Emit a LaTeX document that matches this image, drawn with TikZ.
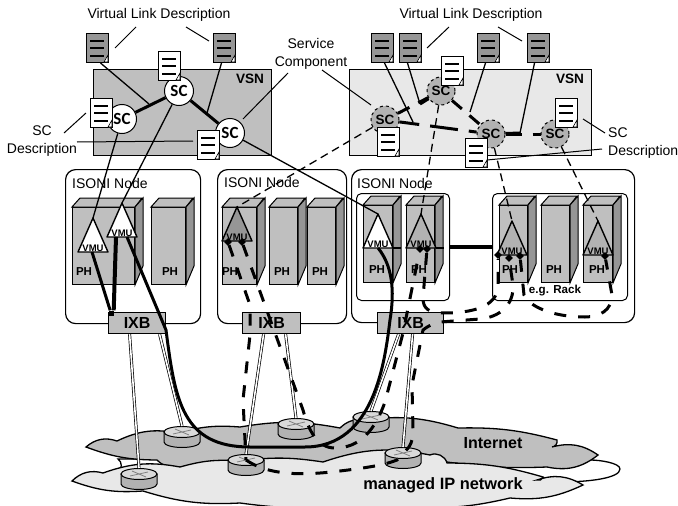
\documentclass[tikz,border=0pt]{standalone}
\usepackage{fontspec}
\setmainfont{Liberation Sans}
\newfontfamily\carlito{Carlito}
\usepackage{xcolor}
\usetikzlibrary{positioning,arrows.meta,shapes.geometric}
\definecolor{gmid}{gray}{0.75}
\definecolor{glight}{gray}{0.91}
\definecolor{gdark}{gray}{0.59}
\definecolor{gsc}{gray}{0.70}
\newcommand{\fs}[2][]{\fontsize{#2}{17.5}\selectfont}
\newcommand{\phbox}[5]{%
  \node[phfront,minimum width=#3pt,anchor=north west] (#1) at (#2,#4) {};
  \draw[phface,fill=gmid] (#1.north west) -- ++(8,-9) -- ++(#3,0) -- (#1.north east) -- cycle;
  \draw[phface,fill=gdark] (#1.north east) -- ++(8,-9) -- ++(0,68) -- (#1.south east) -- cycle;
  \node[phtxt] (#1t) at (#5,#4+65) {PH};}
\newcommand{\docbox}[4]{%
  \node[docn,fill=#4,anchor=north west] (#1) at (#2,#3) {};
  \draw[line width=1.2pt] (#2+4,#3+8) -- ++(14,0) (#2+4,#3+15) -- ++(14,0) (#2+4,#3+23) -- ++(14,0);
  \draw[fill=white,line width=.6pt] (#2+22,#3+22) -- (#2+18,#3+29) -- (#2+22,#3+29) -- cycle;}
\newcommand{\vmutri}[4]{%
  \coordinate (#1a) at (#2,#3-34); \coordinate (#1l) at (#2-15,#3); \coordinate (#1r) at (#2+15,#3);
  \draw[line width=1.4pt,fill=#4,line join=round] (#1a) -- (#1l) -- (#1r) -- cycle;
  \node[vmutxt,anchor=south] (#1) at (#2,#3) {VMU};}
\newcommand{\routernode}[3]{%
  \draw[line width=1pt,fill=gsc] (#2-18,#3) -- ++(0,10) arc[start angle=180,end angle=360,x radius=18pt,y radius=5.5pt] -- ++(0,-10) -- cycle;
  \node[rtop] (#1) at (#2,#3) {};
  \draw[gray,line width=.8pt] (#2-9,#3+2) -- (#2+9,#3-2) (#2-7,#3-3) -- (#2+7,#3+3);}
\begin{document}
\begin{tikzpicture}[x=1pt,y=-1pt,
  >=Latex,
  vsnbox/.style={draw,line width=1pt,minimum height=86pt,inner sep=0pt},
  vsntxt/.style={font=\fs{13.6}\bfseries},
  scl/.style={circle,draw,fill=white,line width=1pt,minimum size=29pt,inner sep=0pt,font=\carlito\fs{17}\bfseries},
  scr/.style={circle,draw,dashed,fill=gsc,line width=1pt,minimum size=28pt,inner sep=0pt,font=\fs{13.5}\bfseries},
  txt/.style={font=\fs{14},align=center},
  docn/.style={draw,line width=1pt,minimum width=22pt,minimum height=29pt,inner sep=0pt},
  cloud/.style={draw,line width=1.3pt},
  isoni/.style={draw,rounded corners=10pt,line width=1.2pt,fill=white,inner sep=0pt},
  rackb/.style={draw,rounded corners=5pt,line width=1pt,fill=white,inner sep=0pt},
  phfront/.style={draw,line width=1pt,fill=gmid,inner sep=0pt,minimum height=77pt},
  phface/.style={draw,line width=1pt},
  phtxt/.style={font=\fs{11.5}\bfseries,inner sep=0pt},
  vmutxt/.style={font=\fs{9.5}\bfseries,inner sep=0.5pt},
  ixb/.style={draw,line width=1.2pt,fill=gmid,minimum height=21pt,inner sep=0pt,font=\fs{16}\bfseries},
  rtop/.style={ellipse,draw,line width=1pt,fill=gmid!60,minimum width=36pt,minimum height=11pt,inner sep=0pt},
  pipe/.style={double,line width=.7pt,double distance=1.6pt},
  thin1/.style={line width=1.3pt},
  tdash/.style={line width=1.3pt,dash pattern=on 8pt off 5pt},
  vlink/.style={line width=3pt},
  vdash/.style={line width=3pt,dash pattern=on 13pt off 10pt},
  bigl/.style={line width=3pt,line join=round},
  bigd/.style={line width=3pt,dash pattern=on 12pt off 12pt},
  dmd/.style={diamond,fill=black,minimum size=8pt,inner sep=0pt},
  lead/.style={line width=1pt}]
  \useasboundingbox (0,0) rectangle (678,506);

  \node (vsn1) [vsnbox,fill=gmid,minimum width=178pt,anchor=north west] at (93,69) {};
  \node (vsn2) [vsnbox,fill=glight,minimum width=242pt,anchor=north west] at (349,69) {};
  \node (vsn1t) [vsntxt] at (250,79) {VSN};
  \node (vsn2t) [vsntxt] at (570,79) {VSN};

  \draw[cloud,fill=white] (118,459) to[bend left=60] (118,472) -- (560,482) .. controls (590,482) and (620,478) .. (620,469) .. controls (620,463) and (600,460) .. (590,460) -- cycle;
  \draw[cloud,fill=gmid] (86,447) to[bend left=30] (117,441) to[bend left=18] (178,433) to[bend left=10] (240,427)
    to[bend left=10] (340,428) to[bend left=25] (363,420) to[bend left=12] (458,428) to[bend left=8] (557,440)
    to[bend left=50] (552,447) to[bend left=25] (598,455) to[bend left=25] (547,467) to[bend left=5] (447,462)
    -- (300,470) -- (177,467) to[bend left=25] (157,460) to[bend left=10] cycle;
  \draw[cloud,fill=glight] (72,481) to[bend left=30] (103,473) to[bend left=15] (180,467) to[bend left=10] (240,461)
    to[bend left=8] (323,462) to[bend left=15] (430,455) to[bend left=50] (447,463) to[bend left=8] (543,477)
    to[bend left=50] (537,480) to[bend left=25] (583,485) to[bend left=15] (510,498) to[bend left=6] (430,508)
    -- (320,508) to[bend left=4] (240,503) to[bend left=10] (143,491) to[bend left=12] cycle;
  \node (inet) [font=\fs{16}\bfseries] at (493,443) {Internet};
  \node (mnet) [font=\fs{16.4}\bfseries] at (443,485) {managed IP network};

  \node (nd1) [isoni,minimum width=135pt,minimum height=154pt,anchor=north west] at (65,169) {};
  \node (nd2) [isoni,minimum width=129pt,minimum height=154pt,anchor=north west] at (217,169) {};
  \node (nd3) [isoni,minimum width=283pt,minimum height=153pt,anchor=north west] at (351,169) {};
  \node (nd1t) [txt,anchor=west,inner sep=0pt] at (72,183) {ISONI Node};
  \node (nd2t) [txt,anchor=west,inner sep=0pt] at (224,182) {ISONI Node};
  \node (nd3t) [txt,anchor=west,inner sep=0pt] at (357,183) {ISONI Node};
  \node (inner) [rackb,minimum width=93pt,minimum height=107pt,anchor=north west] at (356,193) {};
  \node (rack) [rackb,minimum width=135pt,minimum height=107pt,anchor=north west] at (492,193) {};
  \node (rackt) [font=\fs{11.6}\bfseries,inner sep=0pt] at (555,291) {e.g. Rack};

  \phbox{ph1}{72}{62}{207}{84}
  \phbox{ph2}{151}{34}{207}{170}
  \phbox{ph3}{222}{34}{207}{230}
  \phbox{ph4}{269}{28}{207}{282}
  \phbox{ph5}{307}{28}{207}{320}
  \phbox{ph6}{363}{29}{205}{377}
  \phbox{ph7}{406}{28}{205}{419}
  \phbox{ph8}{499}{28}{205}{510}
  \phbox{ph9}{541}{28}{205}{554}
  \phbox{ph10}{583}{29}{205}{597}

  \node (ixb1) [ixb,minimum width=57pt,anchor=north west] at (108,312) {IXB};
  \node (ixb2) [ixb,minimum width=58pt,anchor=north west] at (242,312) {IXB};
  \node (ixb3) [ixb,minimum width=66pt,anchor=north west] at (377,312) {IXB};

  \routernode{rt1}{182}{432}
  \routernode{rt2}{139}{474}
  \routernode{rt3}{246}{460}
  \routernode{rt4}{296}{424}
  \routernode{rt5}{371}{417}
  \routernode{rt6}{403}{453}

  \draw[pipe] ([xshift=-7.5pt]ixb1.south) -- (rt2.north);
  \draw[pipe] ([xshift=22.5pt]ixb1.south) -- (rt1.north);
  \draw[pipe] ([xshift=-8pt]ixb2.south) -- (rt3.north);
  \draw[pipe] ([xshift=14pt]ixb2.south) -- (rt4.north);
  \draw[pipe] ([xshift=-12pt]ixb3.south) -- (rt5.north);
  \draw[pipe] ([xshift=2pt]ixb3.south) -- (rt6.north);

  \node (sc1) [scl] at (122,119) {SC};
  \node (sc2) [scl] at (179,91) {SC};
  \node (sc3) [scl] at (230,133) {SC};
  \node (sc4) [scr] at (385,120) {SC};
  \node (sc5) [scr] at (441,91) {SC};
  \node (sc6) [scr] at (491,134) {SC};
  \node (sc7) [scr] at (555,134) {SC};

  \draw[vlink] (sc1) -- (sc2);
  \draw[vlink] (sc2) -- (sc3);
  \draw[vdash] (sc4) -- (sc5);
  \draw[vlink,dash pattern=on 20pt off 11pt on 28pt off 11pt] (sc4) -- (sc6);
  \draw[vdash] (sc5) -- (sc6);
  \draw[vlink,dash pattern=on 16pt off 11pt] (sc6) -- (sc7);

  \docbox{dg1}{86}{33}{gdark}
  \docbox{dg2}{213}{33}{gdark}
  \docbox{dg3}{371}{33}{gdark}
  \docbox{dg4}{399}{33}{gdark}
  \docbox{dg5}{477}{33}{gdark}
  \docbox{dg6}{527}{33}{gdark}

  \coordinate (j1) at (149,104);
  \coordinate (j2) at (207,113);
  \coordinate (j3) at (413,122);
  \coordinate (j4) at (420,104);
  \coordinate (j5) at (470,112);
  \coordinate (j6) at (520,133);
  \draw[thin1] ([xshift=3pt]dg1.south) -- (j1);
  \draw[thin1] ([xshift=-3pt]dg2.south) -- (j2);
  \draw[thin1] ([xshift=2pt]dg3.south) -- (j3);
  \draw[thin1] ([xshift=-3pt]dg4.south) -- (j4);
  \draw[vlink] (j4) -- (sc5);
  \draw[thin1] ([xshift=-3pt]dg5.south) -- (j5);
  \draw[thin1] ([xshift=-4pt]dg6.south) -- (j6);
  \draw[vlink] (j6) -- (sc6);

  \docbox{dw1}{158}{51}{white}
  \docbox{dw2}{90}{98}{white}
  \docbox{dw3}{197}{130}{white}
  \docbox{dw4}{441}{56}{white}
  \docbox{dw5}{555}{98}{white}
  \docbox{dw6}{377}{127}{white}
  \docbox{dw7}{465}{138}{white}

  \vmutri{vm1}{93}{252}{white}
  \vmutri{vm2}{122}{237}{white}
  \vmutri{vm3}{237}{241}{gdark}
  \vmutri{vm4}{378}{248}{white}
  \vmutri{vm5}{421}{248}{gsc}
  \vmutri{vm6}{512}{255}{gsc}
  \vmutri{vm7}{598}{255}{gsc}

  \draw[thin1] (sc1) -- (vm1a);
  \draw[thin1] (sc2) -- (vm2a);
  \draw[thin1] (sc3) -- (vm4a);
  \draw[tdash] (sc4) -- (vm3a);
  \draw[tdash] (sc5) -- (vm5a);
  \draw[tdash] (sc6) -- (vm6a);
  \draw[tdash] (sc7) -- (vm7a);
  \draw[tdash] (vm4r) -- (vm5l);
  \draw[tdash] (vm5r) -- (inner.east |- vm5r);
  \draw[line width=4.5pt] (inner.east) -- (rack.west);

  \node (jn) [fill=black,minimum size=5pt,inner sep=0pt] at (111,313) {};
  \draw[line width=3pt] ([xshift=-1pt]vm1.south) -- (jn);
  \draw[line width=4pt] ([xshift=-6pt]vm2.south) -- (jn.north east);
  \draw[bigl] ([xshift=5pt]vm2.south) -- (166,330) .. controls (175,400) and (182,447) .. (250,447) -- (305,447)
    .. controls (375,447) and (385,360) .. (390,320) .. controls (395,290) and (392,265) .. (vm4.south);

  \node (dm1) [dmd] at (228,242) {};
  \node (dm2) [dmd] at (242,242) {};
  \node (dm3) [dmd] at (420,249) {};
  \node (dm4) [dmd] at (427,249) {};
  \node (dm5) [dmd] at (498,255) {};
  \node (dm6) [dmd] at (509,258) {};
  \node (dm7) [dmd] at (520,256) {};
  \node (dm8) [dmd] at (605,256) {};

  \draw[bigd] (dm1) -- (250,305) -- (250,335) -- (243,400) -- (rt3.center);
  \draw[bigd] (dm2) -- (303,410) .. controls (309,432) and (318,448) .. (335,448) .. controls (360,448) and (375,430) .. (385,402) -- (403,333) -- (dm3);
  \draw[bigd] (dm4) -- (423,298) .. controls (423,308) and (428,313) .. (443,313) .. controls (470,313) and (498,308) .. (498,285) -- (dm5);
  \draw[bigd] (rt3.center) .. controls (268,475) and (300,476) .. (340,471) .. controls (365,468) and (385,465) .. (397,460) -- (rt6.center)
    .. controls (411,447) and (413,440) .. (413,430) -- (412,385) -- (423,330) .. controls (428,326) and (432,324) .. (440,322)
    -- (480,319) .. controls (500,317) and (514,305) .. (513,285) -- (dm6);
  \draw[bigd] (dm7) -- (524,295) .. controls (528,305) and (550,317) .. (585,317) .. controls (600,317) and (612,310) .. (612,295) -- (dm8);

  \node (vl1) [txt] at (159,15) {Virtual Link Description};
  \node (vl2) [txt] at (471,15) {Virtual Link Description};
  \node (svc) [txt] at (311,54) {Service\\Component};
  \node (sd1) [txt] at (42,141) {SC\\Description};
  \node (sd2) [txt,anchor=west,inner xsep=0pt,align=left] at (608,143) {SC\\Description};

  \path (136,27) coordinate (a1) (115,48) coordinate (a2) (186,27) coordinate (a3) (209,41) coordinate (a4)
    (449,27) coordinate (a5) (427,48) coordinate (a6) (498,27) coordinate (a7) (522,41) coordinate (a8)
    (288,73) coordinate (b1) (243,119) coordinate (b2) (322,70) coordinate (b3) (371,105) coordinate (b4)
    (86,113) coordinate (c1) (64,133) coordinate (c2) (77,142) coordinate (c3) (193,141) coordinate (c4)
    (605,133) coordinate (d1) (583,119) coordinate (d2) (602,149) coordinate (d3) (487,160) coordinate (d4);
  \draw[lead] (a1) -- (a2);
  \draw[lead] (a3) -- (a4);
  \draw[lead] (a5) -- (a6);
  \draw[lead] (a7) -- (a8);
  \draw[lead] (b1) -- (b2);
  \draw[lead] (b3) -- (b4);
  \draw[lead] (c1) -- (c2);
  \draw[lead] (c3) -- (c4);
  \draw[lead] (d1) -- (d2);
  \draw[lead] (d3) -- (d4);
\end{tikzpicture}
\end{document}
